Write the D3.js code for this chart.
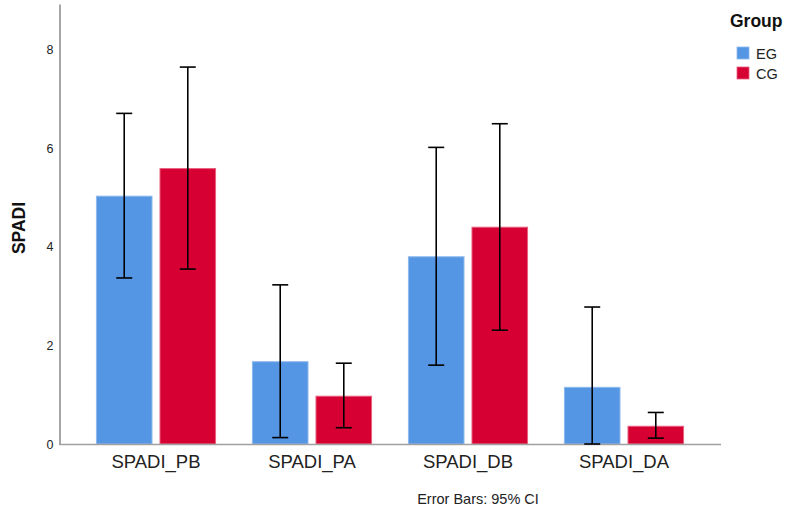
<!DOCTYPE html>
<html>
<head>
<meta charset="utf-8">
<script src="https://cdn.jsdelivr.net/npm/d3@7"></script>
<style>
  html, body { margin: 0; padding: 0; background: #fff; }
  svg { display: block; font-family: "Liberation Sans", Arial, sans-serif; }
</style>
</head>
<body>
<svg id="chart" width="785" height="510"></svg>
<script>
const categories = ["SPADI_PB", "SPADI_PA", "SPADI_DB", "SPADI_DA"];
const groups = ["EG", "CG"];
const egMeans = [5.04, 1.68, 3.81, 1.16];
const cgMeans = [5.60, 0.98, 4.41, 0.37];
const egLow  = [3.37, 0.13, 1.60, 0.00];
const egHigh = [6.71, 3.23, 6.02, 2.78];
const cgLow  = [3.55, 0.33, 2.31, 0.12];
const cgHigh = [7.65, 1.64, 6.50, 0.64];
const yTicks = [0, 2, 4, 6, 8];
const colors = ["#5596e4", "#d60032"];
const strokeColors = ["#8db8ee", "#e8607e"];

const rows = [];
categories.forEach((c, i) => {
  rows.push({cat: c, group: "EG", mean: egMeans[i], lo: egLow[i], hi: egHigh[i]});
  rows.push({cat: c, group: "CG", mean: cgMeans[i], lo: cgLow[i], hi: cgHigh[i]});
});

const svg = d3.select("#chart");
const y = d3.scaleLinear().domain([0, 8.93]).range([444, 4]);
const x = d3.scaleBand().domain(categories).range([78, 702]).paddingInner(0.23).paddingOuter(0.115);
const xg = d3.scaleBand().domain(groups).range([0, x.bandwidth()]).paddingInner(0.11).paddingOuter(0);
const color = d3.scaleOrdinal().domain(groups).range(colors);
const stroke = d3.scaleOrdinal().domain(groups).range(strokeColors);

// bars
svg.append("g").selectAll("rect").data(rows).join("rect")
  .attr("x", d => x(d.cat) + xg(d.group) + 0.5)
  .attr("y", d => y(d.mean) + 0.5)
  .attr("width", xg.bandwidth() - 1)
  .attr("height", d => y(0) - y(d.mean) - 0.5)
  .attr("fill", d => color(d.group))
  .attr("stroke", d => stroke(d.group))
  .attr("stroke-width", 1);

// axes
const yAxis = svg.append("g").attr("transform", "translate(59.5,0)")
  .call(d3.axisLeft(y).tickValues(yTicks).tickSize(0).tickPadding(6).tickFormat(d3.format("d")));
yAxis.select(".domain").attr("stroke", "#8a8a8a").attr("stroke-width", 1.5);
yAxis.selectAll("text").attr("font-size", 12.5).attr("fill", "#222").attr("font-family", "Liberation Sans, Arial, sans-serif");

svg.append("line").attr("x1", 59).attr("x2", 721).attr("y1", 444.5).attr("y2", 444.5)
  .attr("stroke", "#a0a0a0").attr("stroke-width", 1.5);

const xAxis = svg.append("g").attr("transform", "translate(0,444)")
  .call(d3.axisBottom(x).tickSize(0).tickPadding(11));
xAxis.select(".domain").remove();
xAxis.selectAll("text").attr("font-size", 18.5).attr("fill", "#222").attr("font-family", "Liberation Sans, Arial, sans-serif");

// error bars
const eb = svg.append("g").attr("stroke", "#000").attr("stroke-width", 1.6).attr("fill", "none");
rows.forEach(d => {
  const cx = x(d.cat) + xg(d.group) + xg.bandwidth() / 2;
  eb.append("line").attr("x1", cx).attr("x2", cx).attr("y1", y(d.lo)).attr("y2", y(d.hi));
  eb.append("line").attr("x1", cx - 8).attr("x2", cx + 8).attr("y1", y(d.hi)).attr("y2", y(d.hi));
  eb.append("line").attr("x1", cx - 8).attr("x2", cx + 8).attr("y1", y(d.lo)).attr("y2", y(d.lo));
});

// y label
svg.append("text").attr("transform", "translate(25,228) rotate(-90)")
  .attr("text-anchor", "middle").attr("font-weight", "bold").attr("font-size", 17.5).attr("fill", "#111")
  .text("SPADI");

// legend
svg.append("text").attr("x", 730).attr("y", 27).attr("font-weight", "bold").attr("font-size", 17.5).attr("fill", "#111").text("Group");
const lg = svg.append("g").selectAll("g").data(groups).join("g")
  .attr("transform", (d, i) => `translate(737,${47 + i * 20})`);
lg.append("rect").attr("width", 12).attr("height", 12).attr("fill", d => color(d)).attr("stroke", d => stroke(d)).attr("stroke-width", 0.8);
lg.append("text").attr("x", 19).attr("y", 11.5).attr("font-size", 14.5).attr("fill", "#222").text(d => d);

// footnote
svg.append("text").attr("x", 478).attr("y", 504).attr("text-anchor", "middle").attr("font-size", 14.5).attr("fill", "#222")
  .text("Error Bars: 95% CI");
</script>
</body>
</html>
